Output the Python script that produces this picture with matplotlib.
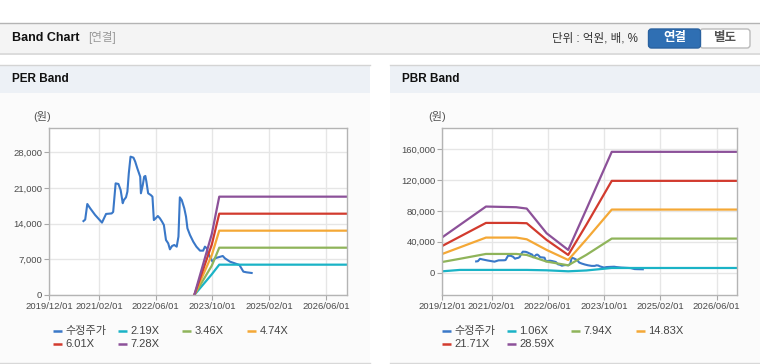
import matplotlib
matplotlib.use("Agg")
import matplotlib.pyplot as plt
from matplotlib.patches import Rectangle, FancyBboxPatch
import pandas as pd

plt.rcParams['font.family'] = ['Liberation Sans', 'Noto Sans CJK KR']

W, H = 760, 364

X_START, X_END = "2019-12-01", "2026-11-28"
X_TICKS = ["2019-12-01", "2021-02-01", "2022-06-01", "2023-10-01", "2025-02-01", "2026-06-01"]
X_TICK_LABELS = ["2019/12/01", "2021/02/01", "2022/06/01", "2023/10/01", "2025/02/01", "2026/06/01"]

# 수정주가 (adjusted price)
PRICE_DATES = [
    "2020-09-19", "2020-10-04", "2020-10-22", "2020-11-16", "2020-12-28", "2021-02-25",
    "2021-04-01", "2021-05-19", "2021-06-01", "2021-06-22", "2021-07-16", "2021-08-04",
    "2021-08-22", "2021-09-01", "2021-09-19", "2021-10-01", "2021-10-13", "2021-10-28",
    "2021-11-22", "2021-12-07", "2021-12-25", "2022-01-19", "2022-01-25", "2022-02-10",
    "2022-02-22", "2022-03-04", "2022-03-13", "2022-03-28", "2022-04-19", "2022-05-04",
    "2022-05-16", "2022-06-01", "2022-06-19", "2022-07-07", "2022-07-25", "2022-08-10",
    "2022-08-28", "2022-09-16", "2022-10-01", "2022-10-19", "2022-11-07", "2022-11-28",
    "2022-12-13", "2022-12-25", "2023-01-10", "2023-02-01", "2023-02-16", "2023-02-28",
    "2023-03-22", "2023-04-19", "2023-05-16", "2023-06-16", "2023-07-13", "2023-07-28",
    "2023-08-13", "2023-08-25", "2023-09-16", "2023-10-01", "2023-10-22", "2023-11-19",
    "2023-12-28", "2024-01-16", "2024-02-28", "2024-04-10", "2024-05-19", "2024-06-22",
    "2024-07-19", "2024-09-01",
]
PRICE = [
    14500, 14800, 17850, 17000, 15700, 14200,
    15900, 16000, 16300, 21900, 21780, 20600,
    18000, 18640, 19160, 20270, 23870, 27140,
    26940, 26160, 24850, 23200, 19950, 21580,
    23220, 23350, 22240, 19950, 19620, 19290,
    14700, 15040, 15500, 15040, 14390, 13730,
    10790, 10140, 8960, 9610, 9810, 9480,
    11450, 19160, 18640, 17000, 15370, 13080,
    11770, 10460, 9480, 8700, 8700, 9480,
    9160, 8180, 7190, 6540, 7190, 7390,
    7650, 7190, 6540, 6210, 5890, 4580,
    4450, 4320,
]

# PER band
PER_DATES = ["2023-04-28", "2023-09-25", "2023-11-28", "2026-11-28"]
PER_LABELS = ["2.19X", "3.46X", "4.74X", "6.01X", "7.28X"]
PER_219 = [0, 4060, 5950, 5950]
PER_346 = [0, 5750, 9280, 9280]
PER_474 = [0, 7820, 12620, 12620]
PER_601 = [0, 9890, 15950, 15950]
PER_728 = [0, 11960, 19290, 19290]
PER_TICKS = [0, 7000, 14000, 21000, 28000]

# PBR band
PBR_DATES = ["2019-12-01", "2020-05-01", "2020-12-13", "2021-09-01", "2021-12-01", "2022-05-22",
             "2022-11-25", "2023-05-01", "2023-12-07", "2026-11-28"]
PBR_LABELS = ["1.06X", "7.94X", "14.83X", "21.71X", "28.59X"]
PBR_106 = [1700, 3500, 3500, 3500, 3500, 3000, 1700, 2800, 6000, 6000]
PBR_794 = [13800, 17900, 24200, 24200, 22900, 14300, 9500, 23000, 44100, 44100]
PBR_1483 = [24200, 32700, 45400, 45400, 43200, 29400, 16400, 43000, 81700, 81700]
PBR_2171 = [34600, 46600, 64400, 64400, 64000, 42400, 22900, 62000, 118900, 118900]
PBR_2859 = [45800, 61800, 85600, 84750, 83000, 51000, 29400, 82000, 156500, 156500]
PBR_TICKS = [0, 40000, 80000, 120000, 160000]

PRICE_LABEL = "수정주가"
COLORS = ["#3a78c8", "#1ab3c6", "#8fb45a", "#f4a836", "#d23b2e", "#8c5199"]

fig = plt.figure(figsize=(W / 100, H / 100), dpi=100)
fig.patch.set_facecolor("white")

# background / frame layer in pixel coords
bg = fig.add_axes([0, 0, 1, 1])
bg.set_xlim(0, W)
bg.set_ylim(H, 0)
bg.axis("off")

# top header bar
bg.add_patch(Rectangle((0, 52), W, 2.5, color="#dcdcdc", lw=0))
bg.add_patch(Rectangle((0, 22.5), W, 30, color="#f4f4f4", lw=0))
bg.plot([0, W], [22.5, 22.5], color="#b4b4b4", lw=1)
bg.text(12, 38, "Band Chart", fontsize=9, fontweight="bold", color="#111", va="center")
bg.text(88, 38, "[연결]", fontsize=8.3, color="#999", va="center")
bg.text(552, 38.5, "단위 : 억원, 배, %", fontsize=8.3, color="#333", va="center")
bg.add_patch(FancyBboxPatch((700, 29), 50, 19, boxstyle="round,pad=0,rounding_size=3",
                            fc="white", ec="#bbbbbb", lw=1))
bg.add_patch(FancyBboxPatch((648.5, 29), 52, 19, boxstyle="round,pad=0,rounding_size=3",
                            fc="#2f6fb3", ec="#2a62a0", lw=1))
bg.text(674.5, 38.5, "연결", fontsize=9, fontweight="bold", color="white", ha="center", va="center")
bg.text(725, 38.5, "별도", fontsize=9, fontweight="bold", color="#555", ha="center", va="center")

# panels
for x0, title in [(0, "PER Band"), (390, "PBR Band")]:
    bg.add_patch(Rectangle((x0, 92.5), 370, 270, color="#fbfbfb", lw=0))
    bg.add_patch(Rectangle((x0, 64.5), 370, 28, color="#edf1f6", lw=0))
    bg.plot([x0, x0 + 370], [64.5, 64.5], color="#d4d4d4", lw=1)
    bg.plot([x0, x0 + 370], [362.5, 362.5], color="#d8d8d8", lw=1)
    bg.text(x0 + 12, 79, title, fontsize=8.5, fontweight="bold", color="#111", va="center")


def ax_at(x0, y0, x1, y1):
    return fig.add_axes([x0 / W, 1 - y1 / H, (x1 - x0) / W, (y1 - y0) / H])


def style(ax, yticks, ylim):
    ax.set_facecolor("white")
    ax.set_xlim(pd.Timestamp(X_START), pd.Timestamp(X_END))
    ax.set_ylim(*ylim)
    ax.set_xticks(pd.to_datetime(X_TICKS))
    ax.set_xticklabels(X_TICK_LABELS)
    ax.set_yticks(yticks)
    ax.set_yticklabels([f"{v:,}" for v in yticks])
    ax.grid(True, color="#e6e6e6", lw=1)
    ax.set_axisbelow(True)
    for s in ax.spines.values():
        s.set_color("#b4b4b4")
        s.set_linewidth(1)
    ax.tick_params(length=3.5, width=0.8, color="#a8a8a8", labelsize=6.8,
                   labelcolor="#4a4a4a", pad=1.5)


def legend(x0, y0, labels):
    xs = [x0, x0 + 65, x0 + 129, x0 + 194]
    for i, (lab, col) in enumerate(zip(labels, COLORS)):
        x = xs[i % 4]
        y = y0 + 13 * (i // 4)
        bg.plot([x, x + 9], [y, y], color=col, lw=1.8, solid_capstyle="butt")
        bg.text(x + 12.5, y + 0.5, lab, fontsize=8, color="#444", va="center")


price_dates = pd.to_datetime(PRICE_DATES)

ax1 = ax_at(49.3, 128.3, 347, 295)
style(ax1, PER_TICKS, (0, 32700))
ax1.plot(price_dates, PRICE, color=COLORS[0], lw=1.5)
per_dates = pd.to_datetime(PER_DATES)
for vals, col in zip([PER_219, PER_346, PER_474, PER_601, PER_728], COLORS[1:]):
    ax1.plot(per_dates, vals, color=col, lw=1.6)
bg.text(42, 117, "(원)", fontsize=8, color="#555", ha="center", va="center")
legend(53, 330.5, [PRICE_LABEL] + PER_LABELS)

ax2 = ax_at(442.3, 128.3, 737.3, 295)
style(ax2, PBR_TICKS, (-29000, 187000))
ax2.plot(price_dates, PRICE, color=COLORS[0], lw=1.5)
pbr_dates = pd.to_datetime(PBR_DATES)
for vals, col in zip([PBR_106, PBR_794, PBR_1483, PBR_2171, PBR_2859], COLORS[1:]):
    ax2.plot(pbr_dates, vals, color=col, lw=1.6)
bg.text(437, 117, "(원)", fontsize=8, color="#555", ha="center", va="center")
legend(442, 330.5, [PRICE_LABEL] + PBR_LABELS)

fig.savefig("out.png", dpi=100)
